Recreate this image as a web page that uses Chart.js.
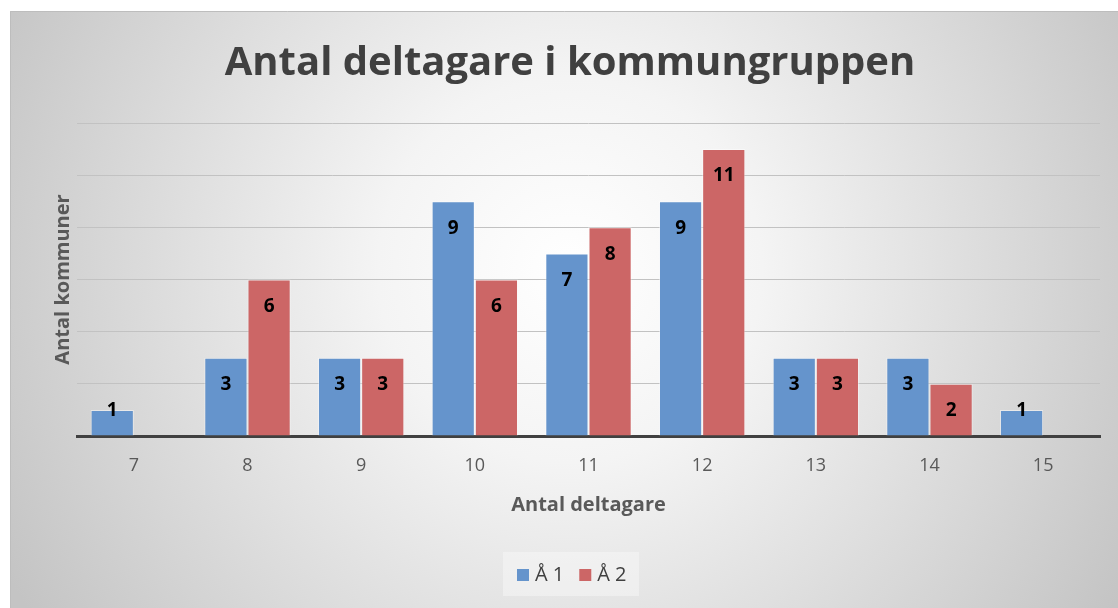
<!DOCTYPE html>
<html>
<head>
<meta charset="utf-8">
<script src="https://cdn.jsdelivr.net/npm/chart.js@4"></script>
<style>
  html, body { margin: 0; padding: 0; background: #fff; }
  #wrap { width: 1118px; height: 608px; }
</style>
</head>
<body>
<div id="wrap"><canvas id="chart" width="1118" height="608"></canvas></div>
<script>
const categories = ["7", "8", "9", "10", "11", "12", "13", "14", "15"];
const ar1 = [1, 3, 3, 9, 7, 9, 3, 3, 1];
const ar2 = [null, 6, 3, 6, 8, 11, 3, 2, null];
const seriesNames = ["Å 1", "Å 2"];
const seriesColors = ['#6594cc', '#cc6666'];
const chartTitle = 'Antal deltagare i kommungruppen';

const font = "'Open Sans', 'Liberation Sans', sans-serif";

// grey gradient backdrop + legend panel
const background = {
  id: 'background',
  beforeDraw(chart) {
    const ctx = chart.ctx;
    ctx.save();
    ctx.fillStyle = '#ffffff';
    ctx.fillRect(0, 0, chart.width, chart.height);
    const g = ctx.createRadialGradient(570, 270, 0, 570, 270, 640);
    g.addColorStop(0, '#ffffff');
    g.addColorStop(0.3, '#f4f4f4');
    g.addColorStop(1, '#c4c4c4');
    ctx.fillStyle = g;
    ctx.fillRect(10, 11, chart.width - 10, chart.height - 11);
    ctx.strokeStyle = '#bdbdbd';
    ctx.lineWidth = 1;
    ctx.beginPath();
    ctx.moveTo(10.5, chart.height);
    ctx.lineTo(10.5, 11.5);
    ctx.lineTo(chart.width, 11.5);
    ctx.stroke();
    ctx.fillStyle = 'rgba(255,255,255,0.35)';
    ctx.fillRect(503, 552, 136, 44);
    ctx.restore();
  }
};

// title and legend, placed like the original
const titleLegend = {
  id: 'titleLegend',
  afterDraw(chart) {
    const ctx = chart.ctx;
    ctx.save();
    ctx.fillStyle = '#404040';
    ctx.font = "bold 40px " + font;
    ctx.textAlign = 'center';
    ctx.textBaseline = 'alphabetic';
    ctx.fillText(chartTitle, 570, 75);

    ctx.font = "20px " + font;
    ctx.textAlign = 'left';
    ctx.textBaseline = 'middle';
    let x = 517;
    seriesNames.forEach((name, i) => {
      ctx.fillStyle = seriesColors[i];
      ctx.fillRect(x, 569, 12, 12);
      ctx.fillStyle = '#404040';
      ctx.fillText(name, x + 18, 575);
      x += 18 + ctx.measureText(name).width + 15;
    });
    ctx.restore();
  }
};

const barLabels = {
  id: 'barLabels',
  afterDatasetsDraw(chart) {
    const ctx = chart.ctx;
    ctx.save();
    ctx.font = "bold 19px " + font;
    ctx.fillStyle = '#000000';
    ctx.textAlign = 'center';
    ctx.textBaseline = 'middle';
    chart.data.datasets.forEach((ds, i) => {
      const meta = chart.getDatasetMeta(i);
      meta.data.forEach((bar, j) => {
        const v = ds.data[j];
        if (v === null || v === undefined) return;
        const y = Math.min(bar.y + 27, bar.base - 25);
        ctx.fillText(String(v), bar.x, y);
      });
    });
    ctx.restore();
  }
};

new Chart(document.getElementById('chart'), {
  type: 'bar',
  data: {
    labels: categories,
    datasets: [{
      label: seriesNames[0],
      data: ar1,
      backgroundColor: seriesColors[0],
      borderColor: 'rgba(255,255,255,0.45)',
      borderWidth: 1,
      categoryPercentage: 0.76,
      barPercentage: 1
    }, {
      label: seriesNames[1],
      data: ar2,
      backgroundColor: seriesColors[1],
      borderColor: 'rgba(255,255,255,0.45)',
      borderWidth: 1,
      categoryPercentage: 0.76,
      barPercentage: 1
    }]
  },
  options: {
    responsive: false,
    animation: false,
    layout: { padding: { left: 0, right: 18, top: 123, bottom: 0 } },
    plugins: {
      title: { display: false },
      legend: { display: false },
      tooltip: { enabled: false }
    },
    scales: {
      x: {
        grid: { display: false, drawTicks: false },
        border: { display: true, color: '#404040', width: 3 },
        ticks: { color: '#595959', font: { family: font, size: 18 }, padding: 19 },
        title: {
          display: true,
          text: 'Antal deltagare',
          color: '#595959',
          font: { family: font, size: 20, weight: 'bold' },
          padding: { top: 0, bottom: 91 }
        },
        afterFit(scale) { scale.height = 172; }
      },
      y: {
        min: 0,
        max: 12,
        ticks: { display: false, stepSize: 2 },
        grid: { color: '#c2c2c2', drawTicks: false },
        border: { display: false },
        title: {
          display: true,
          text: 'Antal kommuner',
          color: '#595959',
          font: { family: font, size: 20, weight: 'bold' },
          padding: { top: 51, bottom: 2 }
        }
      }
    }
  },
  plugins: [background, titleLegend, barLabels]
});
</script>
</body>
</html>
